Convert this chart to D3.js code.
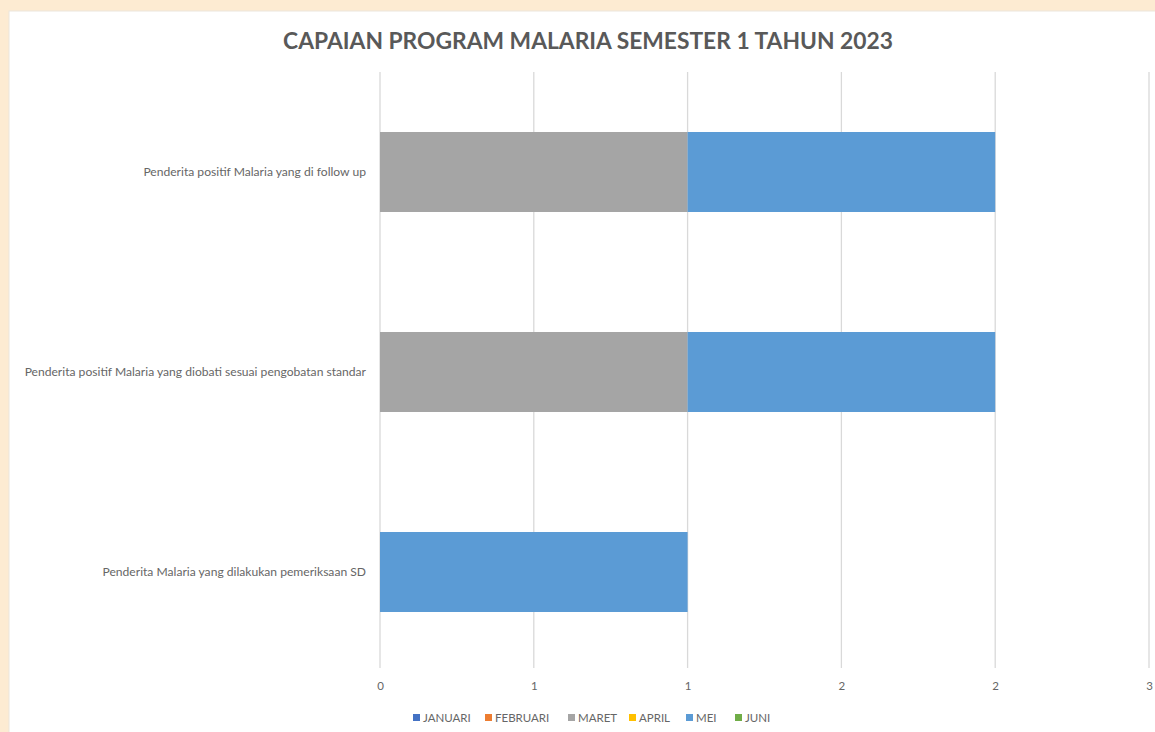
<!DOCTYPE html>
<html>
<head>
<meta charset="utf-8">
<script src="https://cdn.jsdelivr.net/npm/d3@7"></script>
<style>
  body { margin: 0; background: #fdebd2; }
  svg { display: block; }
</style>
</head>
<body>
<div id="chart"></div>
<script>
// data
var categories = [
    "Penderita positif Malaria yang di follow up",
    "Penderita positif Malaria yang diobati sesuai pengobatan standar",
    "Penderita Malaria yang dilakukan pemeriksaan SD"
];
var months = ["JANUARI", "FEBRUARI", "MARET", "APRIL", "MEI", "JUNI"];
var monthColors = ["#4472c4", "#ed7d31", "#a5a5a5", "#ffc000", "#5b9bd5", "#70ad47"];
var januari = [0, 0, 0];
var februari = [0, 0, 0];
var maret = [1, 1, 0];
var april = [0, 0, 0];
var mei = [1, 1, 1];
var juni = [0, 0, 0];
var tickValues = [0, 0.5, 1, 1.5, 2, 2.5];

var width = 1155, height = 732;
var font = "Lato, 'Open Sans', sans-serif";

var svg = d3.select("#chart")
    .append("svg")
    .attr("width", width)
    .attr("height", height);

// wit paneel
svg.append("rect")
    .attr("x", 9).attr("y", 11)
    .attr("width", width).attr("height", height)
    .attr("fill", "#ffffff")
    .attr("stroke", "#ece6dc");

svg.append("text")
    .attr("x", 588).attr("y", 49)
    .attr("text-anchor", "middle")
    .attr("font-family", font)
    .attr("font-weight", "bold")
    .attr("font-size", 22.8)
    .attr("fill", "#595959")
    .text("CAPAIAN PROGRAM MALARIA SEMESTER 1 TAHUN 2023");

var x = d3.scaleLinear().domain([0, 2.5]).range([380, 1149]);
var y = d3.scaleBand().domain(categories).range([72, 672]).paddingInner(0.6).paddingOuter(0.3);

// gridlijnen
svg.append("g").selectAll("line")
    .data(tickValues)
    .enter().append("line")
    .attr("x1", d => x(d)).attr("x2", d => x(d))
    .attr("y1", 72).attr("y2", 668)
    .attr("stroke", "#d9d9d9")
    .attr("stroke-width", 1.3);

// gestapelde data
var series = [januari, februari, maret, april, mei, juni];
var rows = categories.map(function(c, i) {
    var row = { cat: c };
    months.forEach(function(m, j) { row[m] = series[j][i]; });
    return row;
});
var stacked = d3.stack().keys(months)(rows);

svg.append("g").selectAll("g")
    .data(stacked)
    .enter().append("g")
    .attr("fill", (d, i) => monthColors[i])
    .selectAll("rect")
    .data(d => d)
    .enter().append("rect")
    .attr("x", d => x(d[0]))
    .attr("y", d => y(d.data.cat))
    .attr("width", d => x(d[1]) - x(d[0]))
    .attr("height", y.bandwidth());

// categorie labels
svg.append("g").selectAll("text")
    .data(categories)
    .enter().append("text")
    .attr("x", 366)
    .attr("y", d => y(d) + y.bandwidth() / 2 + 4)
    .attr("text-anchor", "end")
    .attr("font-family", font)
    .attr("font-size", 12.1)
    .attr("fill", "#666666")
    .text(d => d);

// x-as
var xAxis = d3.axisBottom(x)
    .tickValues(tickValues)
    .tickSize(0)
    .tickPadding(0)
    .tickFormat(d => d3.format(".0f")(d + 0.001));

var gx = svg.append("g")
    .attr("transform", "translate(0, 682)")
    .call(xAxis);
gx.select(".domain").remove();
gx.selectAll("text")
    .attr("font-family", font)
    .attr("font-size", 11.5)
    .attr("fill", "#666666");

// legenda
var legendX = [413, 485, 568, 629, 686, 735];
var legend = svg.append("g").selectAll("g")
    .data(months)
    .enter().append("g")
    .attr("transform", (d, i) => "translate(" + legendX[i] + ",718)");
legend.append("rect")
    .attr("x", 0).attr("y", -4)
    .attr("width", 7).attr("height", 7)
    .attr("fill", (d, i) => monthColors[i]);
legend.append("text")
    .attr("x", 10).attr("y", 4)
    .attr("font-family", font)
    .attr("font-size", 11.5)
    .attr("fill", "#666666")
    .text(d => d);
</script>
</body>
</html>
